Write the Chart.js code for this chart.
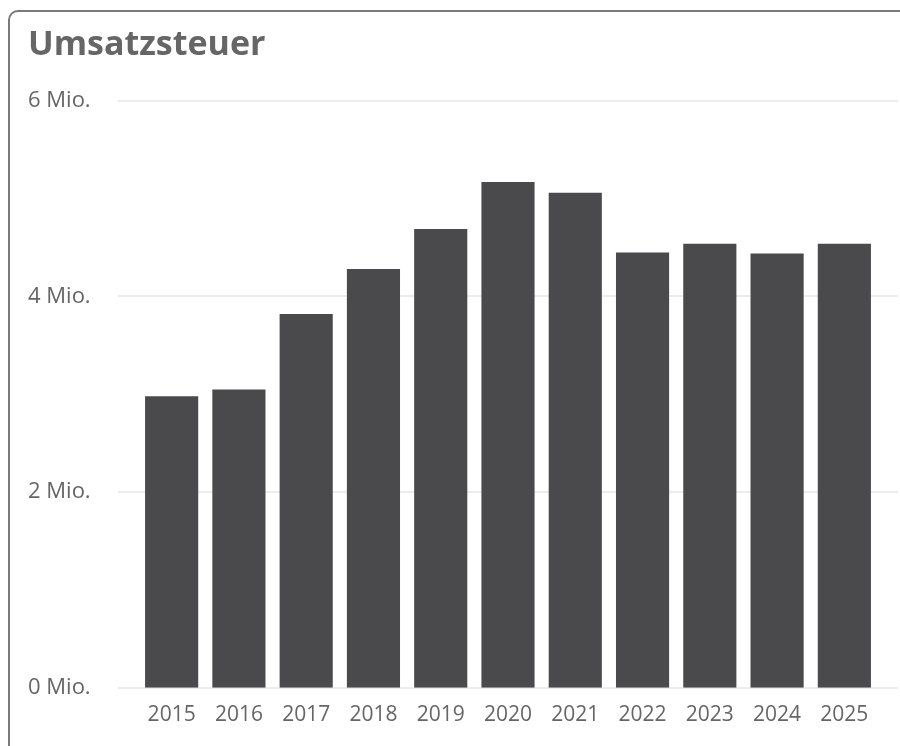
<!DOCTYPE html>
<html>
<head>
<meta charset="utf-8">
<script src="https://cdn.jsdelivr.net/npm/chart.js@4"></script>
<style>
  html, body { margin: 0; padding: 0; background: #fff; overflow: hidden; }
  #wrap { position: relative; width: 900px; height: 746px; }
  #card {
    position: absolute; left: 8px; top: 10px; width: 1000px; height: 1000px;
    border: 2px solid #7a7a7a; border-radius: 10px; box-sizing: border-box;
  }
  canvas { position: absolute; left: 0; top: 0; }
</style>
</head>
<body>
<div id="wrap">
  <div id="card"></div>
  <canvas id="myChart" width="900" height="746"></canvas>
</div>
<script>
// datos del grafico
const jahre = ['2015', '2016', '2017', '2018', '2019', '2020', '2021', '2022', '2023', '2024', '2025'];
const umsatzsteuer = [2.98, 3.05, 3.82, 4.28, 4.69, 5.17, 5.06, 4.45, 4.54, 4.44, 4.54]; // in Mio.
const yTicks = [0, 2, 4, 6];

const barColor = '#4a4a4c';
const textColor = '#666666';
const gridColor = '#ececec';

// lineas horizontales un poco mas largas que el area del grafico
const gridPlugin = {
  id: 'wideGrid',
  beforeDatasetsDraw(chart) {
    const { ctx, chartArea, scales } = chart;
    ctx.save();
    ctx.strokeStyle = gridColor;
    ctx.lineWidth = 2;
    yTicks.forEach(v => {
      const y = Math.round(scales.y.getPixelForValue(v));
      ctx.beginPath();
      ctx.moveTo(chartArea.left - 20, y);
      ctx.lineTo(chartArea.right + 20, y);
      ctx.stroke();
    });
    ctx.restore();
  }
};

const ctx = document.getElementById('myChart');

const myChart = new Chart(ctx, {
  type: 'bar',
  data: {
    labels: jahre,
    datasets: [{
      label: 'Umsatzsteuer',
      data: umsatzsteuer,
      backgroundColor: barColor,
      borderWidth: 0,
      categoryPercentage: 1,
      barPercentage: 0.79
    }]
  },
  options: {
    responsive: false,
    animation: false,
    layout: { padding: { left: 28, right: 22, top: 0, bottom: 3 } },
    plugins: {
      legend: { display: false },
      tooltip: { enabled: false },
      title: {
        display: true,
        text: 'Umsatzsteuer',
        align: 'start',
        color: textColor,
        font: { family: 'Open Sans', size: 34, weight: 'bold' },
        padding: { top: 25, bottom: 35 }
      }
    },
    scales: {
      x: {
        grid: { display: false, drawTicks: false },
        border: { display: false },
        ticks: {
          color: textColor,
          font: { family: 'Open Sans', size: 21 },
          padding: 15,
          maxRotation: 0
        }
      },
      y: {
        min: 0,
        max: 6,
        afterBuildTicks: (scale) => { scale.ticks = yTicks.map(v => ({ value: v })); },
        afterFit: (scale) => { scale.width = 110; },
        grid: { display: false, drawTicks: false },
        border: { display: false },
        ticks: {
          color: textColor,
          crossAlign: 'far',
          font: { family: 'Open Sans', size: 22 },
          callback: (v) => v + ' Mio.'
        }
      }
    }
  },
  plugins: [gridPlugin]
});
</script>
</body>
</html>
